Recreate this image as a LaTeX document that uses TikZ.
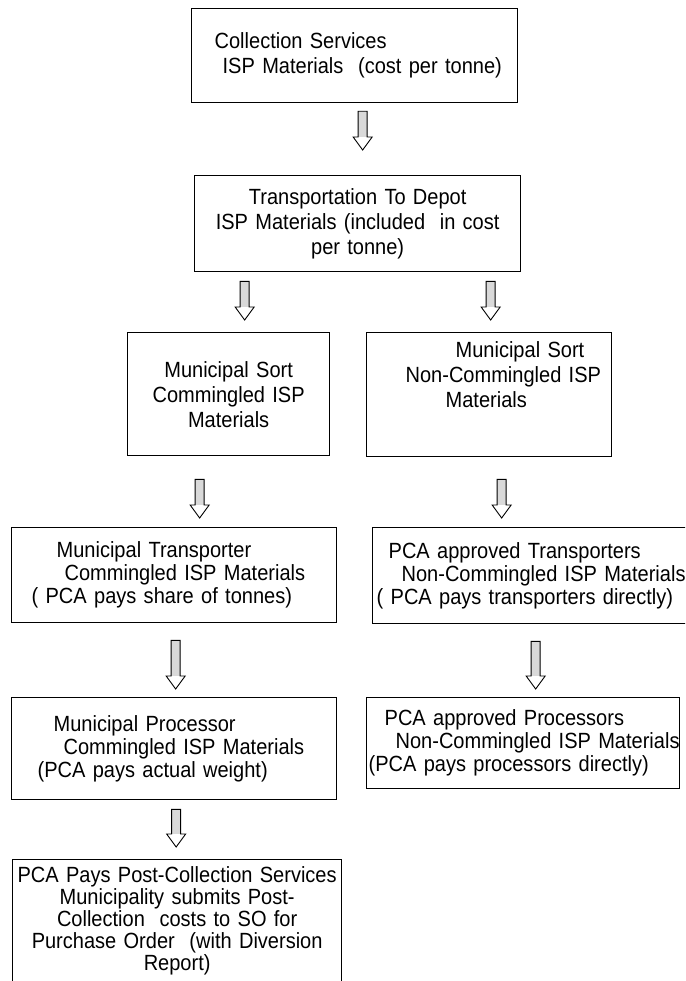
\documentclass[tikz,border=0pt]{standalone}
\usepackage{fontspec}
\setmainfont[FakeStretch=0.91]{Liberation Sans}
\usetikzlibrary{calc}
\tikzset{%
  box/.style={draw, line width=1.3pt, inner sep=0pt, anchor=north west,
    font=\fontsize{22}{23}\selectfont},
  loose/.style={font=\fontsize{22}{25}\selectfont},
  tight/.style={font=\fontsize{22}{22}\selectfont},
  blockarrow/.style={draw, line width=0.9pt, fill=white,
    path picture={\fill[gray!30] (path picture bounding box.north west)
      rectangle ([yshift=13pt]path picture bounding box.south east);},
    to path={let \p1=(\tikztostart), \p2=(\tikztotarget) in
      (\x1-4.5pt,\y1) -- (\x1-4.5pt,\y2+13pt) -- (\x1-9.5pt,\y2+13pt)
      -- (\x1,\y2) -- (\x1+9.5pt,\y2+13pt) -- (\x1+4.5pt,\y2+13pt)
      -- (\x1+4.5pt,\y1) -- cycle}}
}
\begin{document}
\begin{tikzpicture}[x=1pt, y=-1pt]
\useasboundingbox (0,0) rectangle (685,981);
\clip (0,0) rectangle (685,981);

\node[box, loose, align=left, text width=326pt, minimum height=94pt] (collect) at (191,8)
  {\hspace*{23pt}Collection Services\\\hspace*{31pt}ISP Materials~ (cost per tonne)};
\node[box, loose, align=center, text width=326pt, minimum height=96pt] (transport) at (194,175)
  {Transportation To Depot\\ISP Materials (included~ in cost\\per tonne)};

\node[box, loose, align=center, text width=202pt, minimum height=123pt] (sortA) at (127,332)
  {Municipal Sort\\Commingled ISP\\Materials};
\node[box, loose, align=left, text width=245pt, minimum height=124pt, text depth=90pt] (sortB) at (366,332)
  {\hspace*{89pt}Municipal Sort\\\hspace*{39pt}Non-Commingled ISP\\\hspace*{79pt}Materials};

\node[box, align=left, text width=325pt, minimum height=95pt] (tportA) at (11,527)
  {\hspace*{45pt}Municipal Transporter\\\hspace*{53pt}Commingled ISP Materials\\\hspace*{20pt}( PCA pays share of tonnes)};
\node[box, align=left, text width=323pt, minimum height=96pt] (tportB) at (372,527)
  {\hspace*{16pt}PCA approved Transporters\\\hspace*{29pt}Non-Commingled ISP Materials\\\hspace*{4pt}( PCA pays transporters directly)};

\node[box, align=left, text width=325pt, minimum height=102pt] (procA) at (11,697)
  {\hspace*{42pt}Municipal Processor\\\hspace*{52pt}Commingled ISP Materials\\\hspace*{26pt}(PCA pays actual weight)};
\node[box, align=left, text width=313pt, minimum height=91pt] (procB) at (366,697)
  {\hspace*{18pt}PCA approved Processors\\\hspace*{29pt}Non-Commingled ISP Materials\\\hspace*{2pt}(PCA pays processors directly)};

\node[box, tight, align=center, text width=329pt, minimum height=122pt] (postcoll) at (12,859)
  {PCA Pays Post-Collection Services\\Municipality submits Post-\\Collection~ costs to SO for\\Purchase Order~ (with Diversion\\Report)};

\draw[blockarrow] ([xshift=8pt,yshift=-8pt]collect.south) to ([yshift=25pt]transport.north);
\draw[blockarrow] ([xshift=-113pt,yshift=-9pt]transport.south) to ([yshift=12pt]sortA.north);
\draw[blockarrow] ([xshift=133pt,yshift=-9pt]transport.south) to ([yshift=12pt]sortB.north);
\draw[blockarrow] ([xshift=-29pt,yshift=-23pt]sortA.south) to ([yshift=9pt]tportA.north);
\draw[blockarrow] ([xshift=12.5pt,yshift=-22pt]sortB.south) to ([yshift=9pt]tportB.north);
\draw[blockarrow] ([xshift=1.5pt,yshift=-17pt]tportA.south) to ([yshift=8pt]procA.north);
\draw[blockarrow] ([xshift=1.5pt,yshift=-17pt]tportB.south) to ([yshift=8pt]procB.north);
\draw[blockarrow] ([xshift=2pt,yshift=-9pt]procA.south) to ([yshift=12pt]postcoll.north);
\end{tikzpicture}
\end{document}
